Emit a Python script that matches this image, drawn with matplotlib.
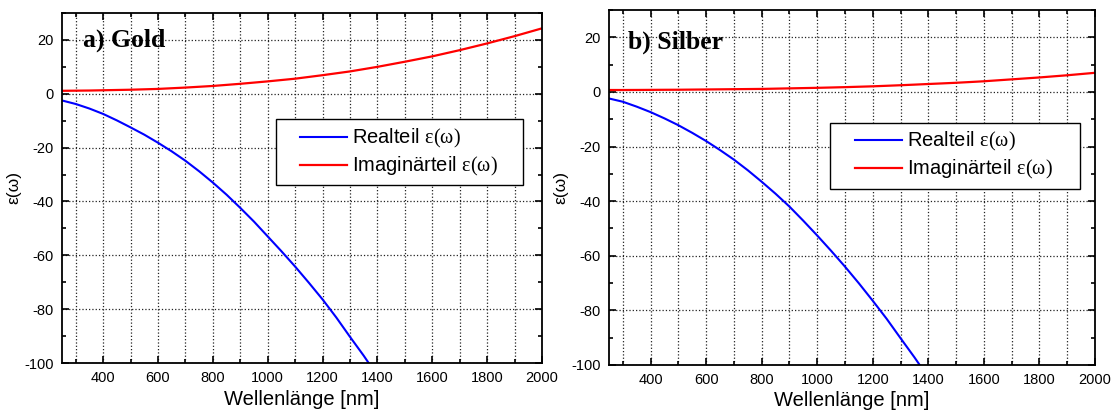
import numpy as np
import matplotlib
matplotlib.use("Agg")
import matplotlib.pyplot as plt
from matplotlib.patches import Rectangle
from matplotlib.ticker import MultipleLocator

plt.rcParams['font.family'] = ['Liberation Sans', 'DejaVu Sans']
plt.rcParams['axes.unicode_minus'] = False
plt.rcParams['mathtext.fontset'] = 'custom'
plt.rcParams['mathtext.rm'] = 'Liberation Serif'
plt.rcParams['mathtext.it'] = 'Liberation Serif'

# Wellenlänge in nm (Schritt 50 nm)
wl = [250, 300, 350, 400, 450, 500, 550, 600, 650, 700, 750, 800, 850, 900, 950,
      1000, 1050, 1100, 1150, 1200, 1250, 1300, 1350, 1400, 1450, 1500, 1550, 1600,
      1650, 1700, 1750, 1800, 1850, 1900, 1950, 2000]

# Gold
gold_re = [-2.5, -3.8, -5.5, -7.5, -9.9, -12.5, -15.2, -18.2, -21.4, -24.9, -28.8,
           -33.0, -37.5, -42.4, -47.5, -53.0, -58.5, -64.2, -70.2, -76.4, -83.1,
           -90.3, -97.3, -104.8, -112.5, -120.5, -128.7, -137.0, -145.7, -154.5,
           -163.7, -173.0, -182.7, -192.5, -202.7, -213.0]
gold_im = [1.1, 1.15, 1.2, 1.3, 1.4, 1.5, 1.65, 1.8, 2.05, 2.3, 2.6, 2.9, 3.3, 3.7,
           4.15, 4.6, 5.1, 5.6, 6.25, 6.9, 7.6, 8.3, 9.15, 10.0, 10.95, 11.9, 12.9,
           13.9, 15.05, 16.2, 17.45, 18.7, 20.05, 21.4, 22.85, 24.3]

# Silber
silber_re = [-2.4, -3.6, -5.4, -7.4, -9.7, -12.2, -15.0, -18.0, -21.3, -24.8, -28.7,
             -32.9, -37.3, -42.0, -47.2, -52.6, -58.2, -64.0, -70.1, -76.5, -83.1,
             -90.2, -97.2, -104.6, -112.3, -120.3, -128.5, -136.8, -145.5, -154.3,
             -163.5, -172.8, -182.4, -192.2, -202.3, -212.5]
silber_im = [0.7, 0.7, 0.72, 0.75, 0.78, 0.8, 0.85, 0.9, 0.95, 1.0, 1.05, 1.1, 1.2,
             1.3, 1.4, 1.5, 1.62, 1.75, 1.9, 2.05, 2.25, 2.45, 2.67, 2.9, 3.12, 3.35,
             3.62, 3.9, 4.25, 4.6, 4.95, 5.3, 5.7, 6.1, 6.55, 7.0]

fig = plt.figure(figsize=(11.18, 4.15), dpi=100)
ax_a = fig.add_axes([0.0555, 0.1253, 0.4293, 0.8434])
ax_b = fig.add_axes([0.5447, 0.1205, 0.4347, 0.8554])


def panel(ax, re, im, titel, text_pos, box, leg_anchor):
    ax.plot(wl, re, color='#0000ff', lw=1.5, label=r'Realteil $\varepsilon(\omega)$')
    ax.plot(wl, im, color='#ff0000', lw=1.6, label=r'Imaginärteil $\varepsilon(\omega)$')
    ax.set_xlim(250, 2000)
    ax.set_ylim(-100, 30)
    ax.xaxis.set_major_locator(MultipleLocator(200))
    ax.xaxis.set_minor_locator(MultipleLocator(100))
    ax.yaxis.set_minor_locator(MultipleLocator(10))
    ax.set_yticks([-100, -80, -60, -40, -20, 0, 20])
    ax.grid(True, which='both', axis='x', ls=':', lw=0.9, color='#222222')
    ax.grid(True, which='major', axis='y', ls=':', lw=0.9, color='#222222')
    ax.tick_params(which='both', direction='in', top=True, right=True, width=1.2,
                   labelsize=10.5)
    ax.tick_params(which='major', length=5, pad=6)
    ax.tick_params(which='minor', length=3)
    for s in ax.spines.values():
        s.set_linewidth(1.3)
    ax.set_xlabel('Wellenlänge [nm]', fontsize=14.5, labelpad=3)
    ax.set_ylabel('ε(ω)', fontsize=12.5, labelpad=2)
    ax.text(text_pos[0], text_pos[1], titel, transform=ax.transAxes,
            family='Liberation Serif', fontweight='bold', fontsize=18.5,
            va='center', ha='left')

    # Legendenrahmen mit breitem seitlichen Rand
    x0, y0, x1, y1 = box
    ax.add_patch(Rectangle((x0, y0), x1 - x0, y1 - y0, transform=ax.transAxes,
                           facecolor='white', edgecolor='black', lw=1.0, zorder=4))
    leg = ax.legend(loc='center left', bbox_to_anchor=leg_anchor, fontsize=14.5,
                    frameon=False, handlelength=2.34, borderpad=0,
                    borderaxespad=0, labelspacing=0.25, handletextpad=0.25)
    leg.set_zorder(5)


panel(ax_a, gold_re, gold_im, 'a) Gold', (0.044, 0.923),
      (0.446, 0.509, 0.960, 0.697), (0.496, 0.601))
panel(ax_b, silber_re, silber_im, 'b) Silber', (0.039, 0.91),
      (0.455, 0.496, 0.969, 0.682), (0.506, 0.589))

fig.savefig('out.png', dpi=100)
